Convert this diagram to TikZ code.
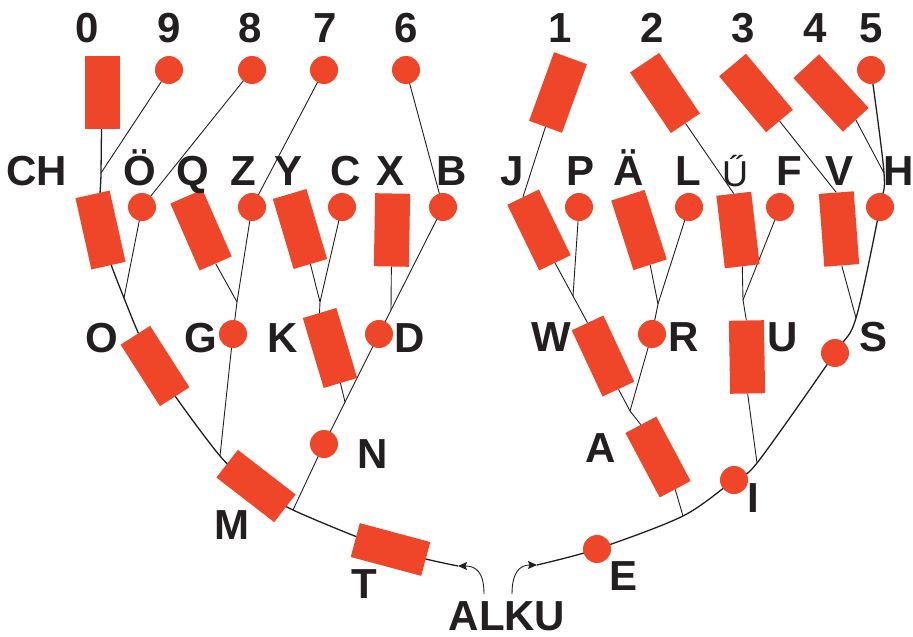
\documentclass[tikz,border=0pt]{standalone}
\usepackage{fontspec}
\setmainfont{Liberation Sans}
\usetikzlibrary{arrows.meta}
\pgfdeclarelayer{back}
\pgfsetlayers{back,main}
\definecolor{morsered}{RGB}{239,69,41}
\definecolor{ink}{RGB}{35,31,32}

\begin{document}
\begin{tikzpicture}[x=1pt,y=-1pt,
		dah/.style={fill=morsered, minimum width=35pt, minimum height=73pt, inner sep=0pt, rotate=#1},
		dah/.default=0,
		dit/.style={circle, fill=morsered, minimum size=28pt, inner sep=0pt},
		lab/.style={anchor=base, text=ink, inner sep=0pt, font=\fontsize{42}{42}\selectfont\bfseries},
		trunk/.style={draw=ink, line width=1.3pt},
		twig/.style={draw=ink, line width=0.9pt},
		tip/.style={-{Stealth[length=9pt,width=8pt,inset=1.5pt]}}]

		\useasboundingbox (0,0) rectangle (913,637);

		\node[dah] (n0) at (102,92) {};
		\node[dit] (n9) at (169,70) {};
		\node[dit] (n8) at (252,70) {};
		\node[dit] (n7) at (324,70) {};
		\node[dit] (n6) at (406,70) {};
		\node[dah=-20] (n1) at (558,92.5) {};
		\node[dah=34] (n2) at (665,93) {};
		\node[dah=40] (n3) at (756,93) {};
		\node[dah=42.7] (n4) at (831,93) {};
		\node[dit] (n5) at (871,70) {};

		\node[dah=12.6] (nCH) at (100.5,230) {};
		\node[dit] (nOE) at (142,207) {};
		\node[dah=23.6] (nQ) at (201,230) {};
		\node[dit] (nZ) at (252,207) {};
		\node[dah=16.5] (nY) at (300,229) {};
		\node[dit] (nC) at (342,207) {};
		\node[dah=-1] (nX) at (392,230) {};
		\node[dit] (nB) at (443,207) {};
		\node[dah=25.9] (nJ) at (539,230) {};
		\node[dit] (nP) at (579,207) {};
		\node[dah=17.7] (nAE) at (639,230) {};
		\node[dit] (nL) at (689,207) {};
		\node[dah=6.7] (nUU) at (738,230) {};
		\node[dit] (nF) at (780,207) {};
		\node[dah=4.3] (nV) at (839,229) {};
		\node[dit] (nH) at (880,207) {};

		\node[dah=32.6] (nO) at (155,366) {};
		\node[dit] (nG) at (233,334) {};
		\node[dah=16.6] (nK) at (330,348) {};
		\node[dit] (nD) at (379,334) {};
		\node[dah=25] (nW) at (603,356) {};
		\node[dit] (nR) at (652,334) {};
		\node[dah=1] (nU) at (747,357) {};
		\node[dit] (nS) at (835,353) {};

		\node[dah=52.3] (nM) at (256,486) {};
		\node[dit] (nN) at (324,444) {};
		\node[dah=28] (nA) at (658,457) {};
		\node[dit] (nI) at (734,480) {};
		\node[dah=75] (nT) at (390.5,549.5) {};
		\node[dit] (nE) at (597,549) {};

		\coordinate (jCH) at (101,173);
		\coordinate (jO) at (124,298);
		\coordinate (jG) at (237,302);
		\coordinate (jK) at (320,302);
		\coordinate (jD) at (391,310);
		\coordinate (jN) at (345,402);
		\coordinate (jM) at (220,456);
		\coordinate (jT) at (293,510);
		\coordinate (jW) at (573,296);
		\coordinate (jR) at (658,304);
		\coordinate (jU) at (743,300);
		\coordinate (jS) at (856,318);
		\coordinate (jH) at (884,173);
		\coordinate (jA) at (630,411);
		\coordinate (jI) at (757,463);
		\coordinate (jE) at (683,516);
		\coordinate (aL) at (458,566);
		\coordinate (aR) at (537,565);

		\node[lab] (ALKU) at (507,630) {ALKU};
		\coordinate (sL) at (484,594);
		\coordinate (sR) at (512,594);

		\begin{pgfonlayer}{back}
			\draw[trunk] plot[smooth] coordinates {(aL) (nT.center) (jT) (nM.center) (jM) (nO.center) (jO) (nCH.center) (jCH) (n0.center)};
			\draw[trunk] plot[smooth] coordinates {(aR) (nE.center) (jE) (nI.center) (jI) (nS.center) (jS) (nH.center) (jH) (n5.center)};

			\draw[twig] (n9.center) -- (jCH);
			\draw[twig] (n8.center) -- (nOE.center) -- (jO);
			\draw[twig] (n7.center) -- (nZ.center) -- (jG) -- (nG.center) -- (jM);
			\draw[twig] (nQ.south) -- (jG);
			\draw[twig] (nY.south) -- (jK) -- (nK.north);
			\draw[twig] (nC.center) -- (jK);
			\draw[twig] (nK.south) -- (jN);
			\draw[twig] (nX.south) -- (jD);
			\draw[twig] (n6.center) -- (nB.center) -- (jD) -- (nD.center) -- (jN) -- (nN.center) -- (jT);

			\draw[twig] (n1.south) -- (nJ.north);
			\draw[twig] (nJ.south) -- (jW) -- (nW.north);
			\draw[twig] (nP.center) -- (jW);
			\draw[twig] (nW.south) -- (jA) -- (nA.north);
			\draw[twig] (nA.south) -- (jE);
			\draw[twig] (nAE.south) -- (jR) -- (nR.center) -- (jA);
			\draw[twig] (nL.center) -- (jR);
			\draw[twig] (n2.south) -- (nUU.north);
			\draw[twig] (nUU.south) -- (jU) -- (nU.north);
			\draw[twig] (nF.center) -- (jU);
			\draw[twig] (nU.south) -- (jI);
			\draw[twig] (n3.south) -- (nV.north);
			\draw[twig] (nV.south) -- (jS);
			\draw[twig] (n4.south) -- (jH);
		\end{pgfonlayer}

		\draw[twig, tip] (sL) .. controls (484,572) and (476,566) .. (aL);
		\draw[twig, tip] (sR) .. controls (512,572) and (520,565) .. (aR);

		\node[lab] (l0) at (87,42) {0};
		\node[lab] (l9) at (169,42) {9};
		\node[lab] (l8) at (250,42) {8};
		\node[lab] (l7) at (325,42) {7};
		\node[lab] (l6) at (406,42) {6};
		\node[lab] (l1) at (560,42) {1};
		\node[lab] (l2) at (652,42) {2};
		\node[lab] (l3) at (743,42) {3};
		\node[lab] (l4) at (815,42) {4};
		\node[lab] (l5) at (871,42) {5};

		\node[lab] (lCH) at (37,185) {CH};
		\node[lab] (lOE) at (140,185) {Ö};
		\node[lab] (lQ) at (193,185) {Q};
		\node[lab] (lZ) at (243,185) {Z};
		\node[lab] (lY) at (289,185) {Y};
		\node[lab] (lC) at (346,185) {C};
		\node[lab] (lX) at (391,185) {X};
		\node[lab] (lB) at (452,185) {B};
		\node[lab] (lJ) at (512,185) {J};
		\node[lab] (lP) at (581,185) {P};
		\node[lab] (lAE) at (629,185) {Ä};
		\node[lab] (lL) at (688,185) {L};
		\node[lab, font=\fontsize{36}{36}\selectfont] (lUU) at (735,186) {Ű};
		\node[lab] (lF) at (789,185) {F};
		\node[lab] (lV) at (839,185) {V};
		\node[lab] (lH) at (899,185) {H};

		\node[lab] (lO) at (102,352) {O};
		\node[lab] (lG) at (201,352) {G};
		\node[lab] (lK) at (283,352) {K};
		\node[lab] (lD) at (410,352) {D};
		\node[lab] (lW) at (551,351) {W};
		\node[lab] (lR) at (684,351) {R};
		\node[lab] (lU) at (783,351) {U};
		\node[lab] (lS) at (873,351) {S};

		\node[lab] (lN) at (373,468) {N};
		\node[lab] (lM) at (232,539) {M};
		\node[lab] (lA) at (601,462) {A};
		\node[lab] (lI) at (753,512) {I};
		\node[lab] (lT) at (364,598) {T};
		\node[lab] (lE) at (623,590) {E};
	\end{tikzpicture}
\end{document}
